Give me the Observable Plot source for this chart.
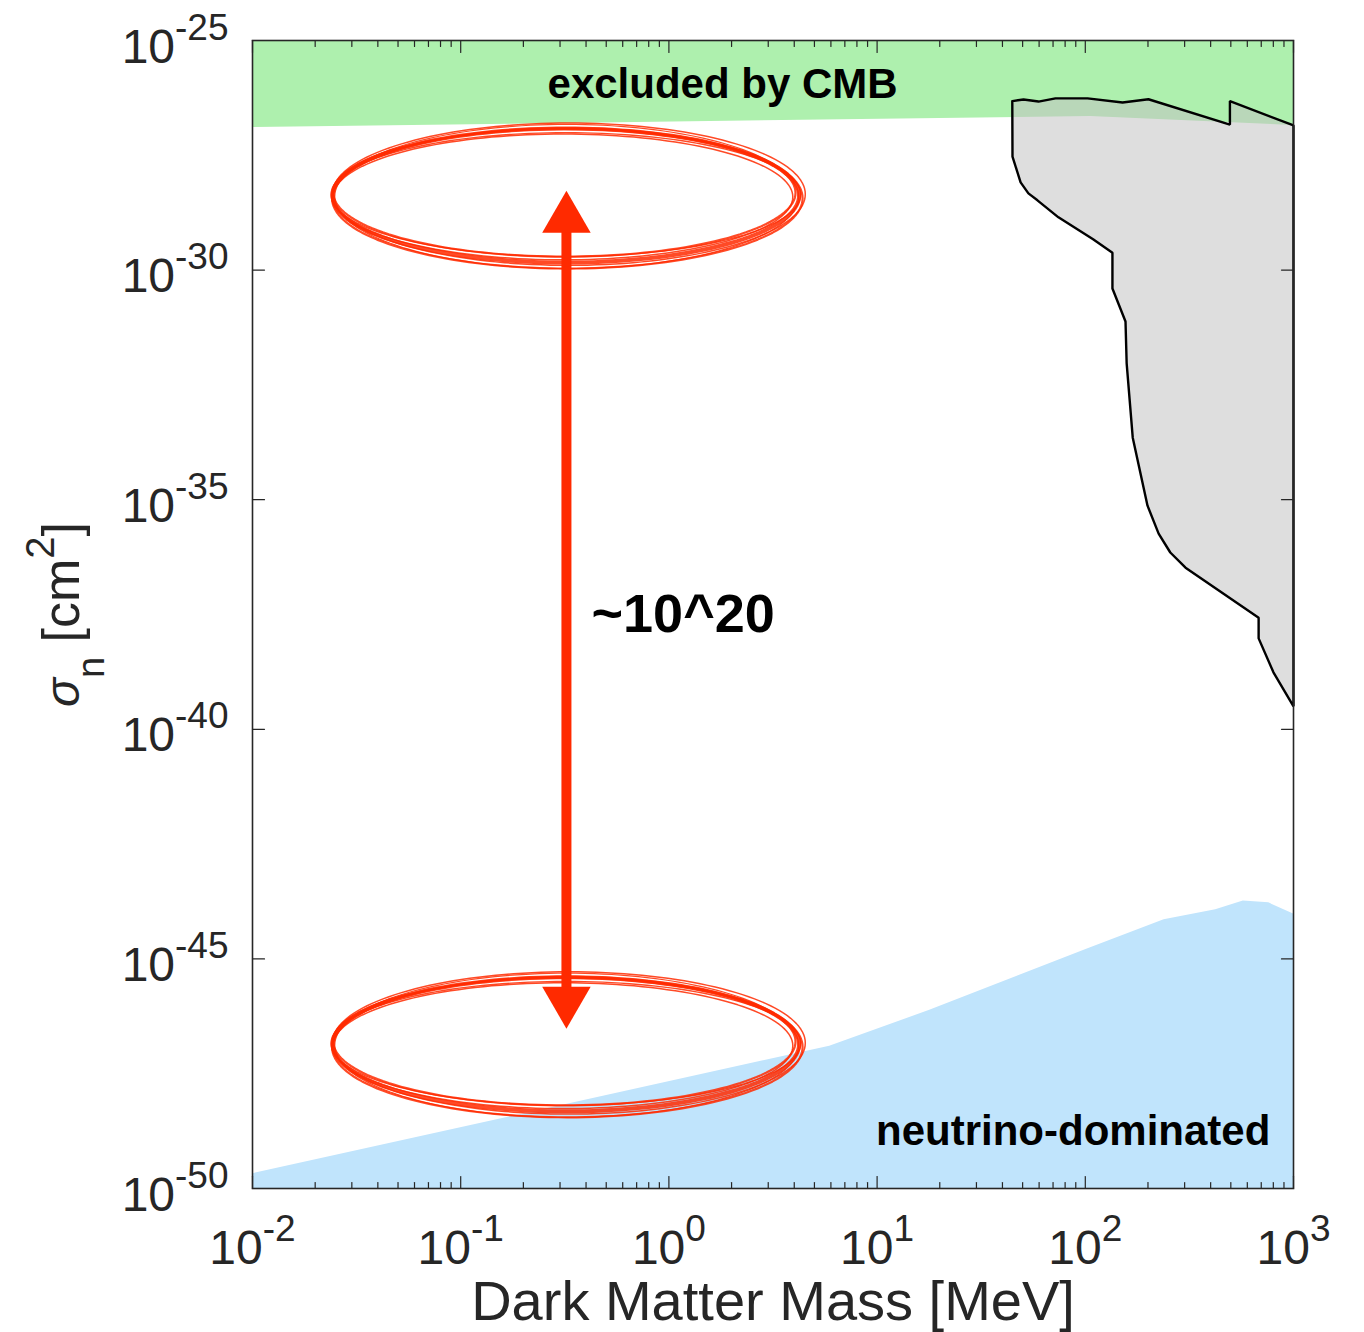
<!DOCTYPE html>
<html><head><meta charset="utf-8">
<script src="https://cdn.jsdelivr.net/npm/d3@7"></script>
<script src="https://cdn.jsdelivr.net/npm/@observablehq/plot@0.6"></script>
<style>html,body{margin:0;padding:0;background:#fff;} svg{display:block;}</style>
</head><body><div id="chart"></div>
<script>
// ---- axis ticks ----
const xMajorTicks = [0.01, 0.1, 1, 10, 100, 1000];
const xMinorMultipliers = [2, 3, 4, 5, 6, 7, 8, 9];
const yMajorTicks = [1e-50, 1e-45, 1e-40, 1e-35, 1e-30, 1e-25];

// ---- CMB exclusion (lower boundary, fills to top) ----
const cmbMass = [0.01, 106, 1000];
const cmbSigma = [1.27e-27, 2.21e-27, 1.41e-27];

// ---- neutrino floor (upper boundary, fills to bottom) ----
const nuMass = [0.01, 5.92, 17.9, 103, 239, 423, 574, 761, 1000];
const nuSigma = [2.09e-50, 1.26e-47, 7.59e-47, 1.66e-45, 7.08e-45, 1.17e-44, 1.82e-44, 1.66e-44, 9.55e-45];

// ---- excluded region (closed outline) ----
const limitMass = [44.6, 50.5, 59.6, 71.9, 102.5, 151, 201, 495, 495, 1000,
                   1000, 801, 680, 680, 303, 256, 225, 199, 169, 158, 156, 135, 135,
                   109, 74.3, 58.9, 53.3, 48.9, 44.7, 44.6];
const limitSigma = [4.79e-27, 5.19e-27, 4.68e-27, 5.50e-27, 5.50e-27, 4.47e-27, 5.25e-27, 1.48e-27, 4.79e-27, 1.41e-27,
                    3.16e-40, 1.74e-39, 9.55e-39, 2.69e-38, 3.31e-37, 7.08e-37, 1.82e-36, 7.41e-36, 2.24e-34, 9.33e-33, 7.59e-32, 3.98e-31, 2.40e-30,
                    4.68e-30, 1.41e-29, 3.31e-29, 4.68e-29, 8.13e-29, 2.95e-28, 4.79e-27];

// ---- annotations ----
const ellipseMass = [0.32, 0.32];
const ellipseSigma = [4.2e-29, 1.38e-47];
const ellipseRadiusDecades = [1.12, 1.46]; // [x, y]
const arrowMass = 0.322;
const arrowTipSigma = [5.37e-29, 3.02e-47];
const labelText = ["excluded by CMB", "neutrino-dominated", "~10^20"];
const labelMass = [1.81, 774, 0.425];
const labelSigma = [1.12e-26, 1.7e-49, 3.2e-38];

// ---- tables ----
const cmb = cmbMass.map((m, i) => ({m, s: cmbSigma[i]}));
const nu = nuMass.map((m, i) => ({m, s: nuSigma[i]}));
const limit = limitMass.map((m, i) => ({m, s: limitSigma[i]}));
const xMinorTicks = xMajorTicks.slice(0, -1).flatMap(d => xMinorMultipliers.map(k => k * d));

const red = "#ff2a00";
// hand-drawn brush: several slightly offset strokes
const brush = [
  {ox: 0, oy: 0, sx: 0, sy: 0, w: 4},
  {ox: 0.007, oy: -0.06, sx: 0.01, sy: 0.07, w: 2.2},
  {ox: -0.007, oy: 0.06, sx: -0.01, sy: -0.07, w: 2.2},
  {ox: 0.014, oy: 0.03, sx: 0.016, sy: 0.09, w: 1.5},
  {ox: -0.014, oy: -0.03, sx: -0.016, sy: -0.09, w: 1.5},
  {ox: 0.0, oy: 0.02, sx: 0.008, sy: -0.11, w: 1.4},
  {ox: 0.004, oy: -0.02, sx: -0.006, sy: 0.11, w: 1.2}
];
function ellipsePts(ci, b) {
  const cx = Math.log10(ellipseMass[ci]) + b.ox, cy = Math.log10(ellipseSigma[ci]) + b.oy;
  const rx = ellipseRadiusDecades[0] + b.sx, ry = ellipseRadiusDecades[1] + b.sy;
  const pts = [];
  for (let k = 0; k <= 160; k++) {
    const t = (k / 160) * 2 * Math.PI;
    pts.push({m: 10 ** (cx + rx * Math.cos(t)), s: 10 ** (cy + ry * Math.sin(t))});
  }
  return pts;
}
const ellipseMarks = [];
for (let ci = 0; ci < 2; ci++) for (const b of brush)
  ellipseMarks.push(Plot.line(ellipsePts(ci, b), {x: "m", y: "s", stroke: red, strokeWidth: b.w, strokeOpacity: 0.85, curve: "linear"}));

const tickShape = {draw(context, l) { context.moveTo(0, 0); context.lineTo(0, -l); }};
const tickStyle = {stroke: "#262626", strokeWidth: 1.2, anchor: "start", shape: tickShape};

const chart = Plot.plot({
  width: 1364, height: 1332,
  marginTop: 40, marginRight: 71, marginBottom: 144, marginLeft: 252,
  style: {fontFamily: "'Liberation Sans', Arial, Helvetica, sans-serif", background: "#fff"},
  x: {type: "log", domain: [0.01, 1000], axis: null},
  y: {type: "log", domain: [1e-50, 1e-25], axis: null},
  marks: [
    Plot.areaY(cmb, {x: "m", y1: 1e-25, y2: "s", fill: "#aef0ae"}),
    Plot.areaY(nu, {x: "m", y1: 1e-50, y2: "s", fill: "#c0e4fc"}),
    Plot.line(limit, {x: "m", y: "s", fill: "#c2c2c2", fillOpacity: 0.54, stroke: "#000", strokeWidth: 2.4, curve: "linear", strokeLinejoin: "miter"}),
    // ticks (inward, all four sides)
    Plot.vector(xMajorTicks, {x: d => d, frameAnchor: "bottom", length: 12, rotate: 0, ...tickStyle}),
    Plot.vector(xMajorTicks, {x: d => d, frameAnchor: "top", length: 12, rotate: 180, ...tickStyle}),
    Plot.vector(xMinorTicks, {x: d => d, frameAnchor: "bottom", length: 6, rotate: 0, ...tickStyle}),
    Plot.vector(xMinorTicks, {x: d => d, frameAnchor: "top", length: 6, rotate: 180, ...tickStyle}),
    Plot.vector(yMajorTicks, {y: d => d, frameAnchor: "left", length: 12, rotate: 90, ...tickStyle}),
    Plot.vector(yMajorTicks, {y: d => d, frameAnchor: "right", length: 12, rotate: -90, ...tickStyle}),
    Plot.frame({stroke: "#262626", strokeWidth: 1.6}),
    // tick labels (text mark #0, #1)
    Plot.text(xMajorTicks, {x: d => d, frameAnchor: "bottom", dy: 75, text: d => "10^" + Math.round(Math.log10(d)), fontSize: 48, fill: "#262626"}),
    Plot.text(yMajorTicks, {y: d => d, frameAnchor: "left", dx: -24, dy: 22, textAnchor: "end", text: d => "10^" + Math.round(Math.log10(d)), fontSize: 48, fill: "#262626"}),
    // axis labels (text mark #2, #3)
    Plot.text(["Dark Matter Mass [MeV]"], {frameAnchor: "bottom", dy: 131, text: d => d, fontSize: 56, fill: "#262626"}),
    Plot.text(["σn [cm2]"], {frameAnchor: "left", dx: -174, rotate: -90, textAnchor: "start", text: d => d, fontSize: 52, fill: "#262626"}),
    // red annotation
    ...ellipseMarks,
    Plot.ruleX([arrowMass], {y1: arrowTipSigma[0], y2: arrowTipSigma[1], stroke: red, strokeWidth: 10, insetTop: 30, insetBottom: 30}),
    Plot.dot([arrowMass], {x: d => d, y: arrowTipSigma[0], symbol: "triangle", r: 18, fill: red, stroke: "none", dy: 28}),
    Plot.dot([arrowMass], {x: d => d, y: arrowTipSigma[1], symbol: "triangle", r: 18, fill: red, stroke: "none", rotate: 180, dy: -28}),
    // region labels
    Plot.text([0], {x: i => labelMass[i], y: i => labelSigma[i], text: i => labelText[i], fontSize: 42, fontWeight: "bold", fill: "#000", textAnchor: "middle"}),
    Plot.text([1], {x: i => labelMass[i], y: i => labelSigma[i], text: i => labelText[i], fontSize: 42, fontWeight: "bold", fill: "#000", textAnchor: "end"}),
    Plot.text([2], {x: i => labelMass[i], y: i => labelSigma[i], text: i => labelText[i], fontSize: 54, fontWeight: "bold", fill: "#000", textAnchor: "start"})
  ]
});
document.getElementById("chart").appendChild(chart);

// ---- rich text (superscripts / subscripts) ----
const NS = "http://www.w3.org/2000/svg";
function rebuild(el, parts) {
  el.removeAttribute("y");
  while (el.firstChild) el.removeChild(el.firstChild);
  for (const p of parts) {
    const ts = document.createElementNS(NS, "tspan");
    ts.textContent = p.t;
    if (p.size) ts.setAttribute("font-size", p.size);
    if (p.dy) ts.setAttribute("dy", p.dy);
    if (p.italic) ts.setAttribute("font-style", "italic");
    el.appendChild(ts);
  }
}
const textGroups = chart.querySelectorAll('g[aria-label="text"]');
[textGroups[0], textGroups[1]].forEach(g => g && g.querySelectorAll("text").forEach(el => {
  const [b, e] = el.textContent.split("^");
  rebuild(el, [{t: b, size: 48}, {t: e, size: 37, dy: -23}]);
}));
if (textGroups[2]) textGroups[2].querySelectorAll("text").forEach(el => el.removeAttribute("y"));
if (textGroups[3]) textGroups[3].querySelectorAll("text").forEach(el => {
  rebuild(el, [
    {t: "σ", size: 48, italic: true},
    {t: "n", size: 38, dy: 25},
    {t: "\u00a0[cm", size: 52, dy: -25},
    {t: "2", size: 40, dy: -25},
    {t: "]", size: 52, dy: 25}
  ]);
  // center the whole label along its (rotated) baseline
  const len = el.getComputedTextLength();
  el.setAttribute("x", -len / 2);
});
</script>
</body></html>
